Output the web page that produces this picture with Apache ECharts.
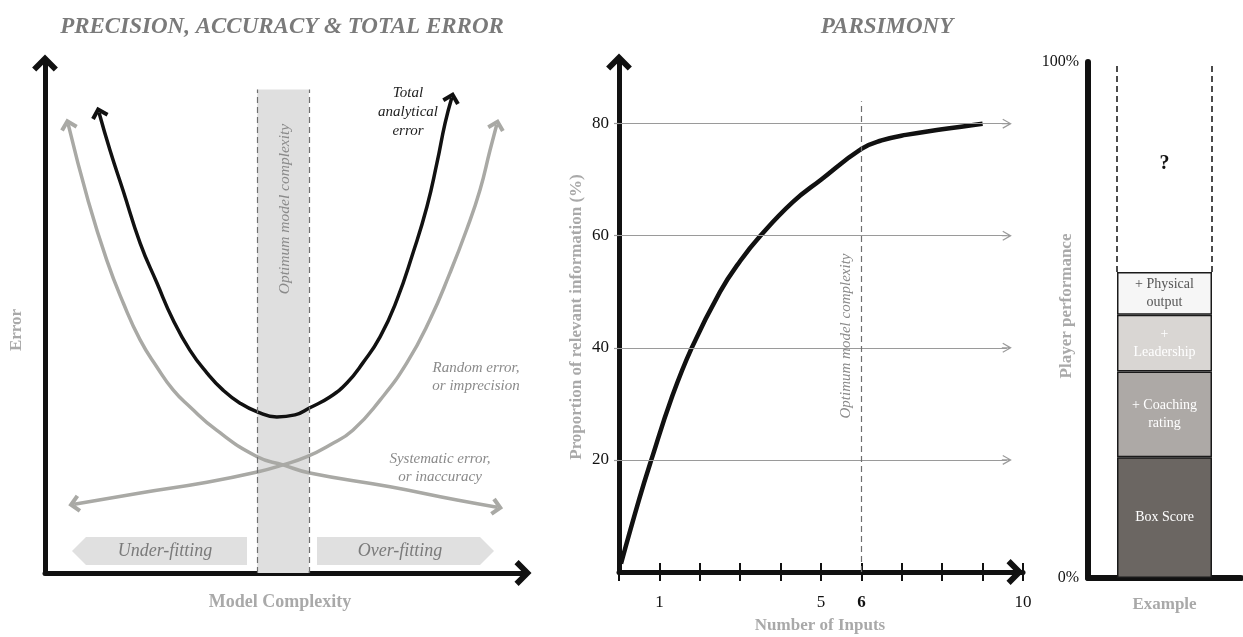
<!DOCTYPE html>
<html><head><meta charset="utf-8">
<script src="https://cdn.jsdelivr.net/npm/echarts@6/dist/echarts.min.js"></script>
<style>html,body{margin:0;padding:0;background:#fff}#c{width:1243px;height:637px}</style>
</head><body><div id="c"></div>
<script>
// ---------- Panel 1: precision, accuracy & total error (conceptual 0–100 units) ----------
const totalX = [11.3, 13.6, 16.3, 19.9, 23.4, 26.8, 30.3, 33.9, 37.2, 40.8, 44.4, 48.5, 52.3, 55.4, 59.6, 63.2, 66.5, 70.1, 73.6, 77.0, 79.9, 82.0, 83.7, 85.1];
const totalY = [90.3, 82.9, 75.1, 64.7, 56.9, 49.6, 43.7, 39.2, 35.9, 33.3, 31.6, 30.6, 31.0, 32.4, 34.5, 37.3, 41.2, 46.3, 53.5, 62.8, 71.8, 80.4, 88.2, 93.2];
const systematicX = [4.85, 9.0, 12.9, 16.4, 19.9, 23.4, 26.8, 30.3, 35.9, 44.4, 49.8, 55.4, 72.2, 86.2, 94.6];
const systematicY = [88.0, 73.1, 61.4, 52.9, 45.7, 40.4, 35.9, 32.6, 28.0, 22.8, 21.2, 19.6, 16.9, 14.3, 12.9];
const randomX = [6.1, 19.9, 33.9, 44.4, 49.8, 54.8, 59.6, 64.4, 70.1, 75.7, 80.5, 84.7, 88.2, 91.0, 93.1, 94.5];
const randomY = [13.5, 15.7, 17.8, 19.8, 21.2, 22.8, 25.1, 28.0, 33.9, 41.2, 49.6, 58.8, 67.3, 75.1, 82.9, 87.9];
const optimumBandX = [44.4, 55.2];
const optimumBandTop = 94.8;

// ---------- Panel 2: parsimony ----------
const inputs = [0.05, 0.5, 0.8, 1.3, 1.8, 2.5, 3.0, 3.5, 4.3, 5.0, 6.0, 6.5, 7.1, 8.0, 9.0];
const infoPct = [1.5, 13, 20, 31, 40, 50, 55.5, 60, 66, 70, 75.5, 77, 78, 79, 80];
const inputTickLabels = [1, 5, 6, 10];
const infoTicks = [20, 40, 60, 80];
const optimumInputs = 6;
const optimumLineTop = 84;

// ---------- Panel 3: player performance ----------
const segmentNames = ['Box Score', '+ Coaching\nrating', '+\nLeadership', '+ Physical\noutput'];
const segmentValues = [23.4, 16.6, 11.0, 8.3];
const unknownValue = 40.7;
const perfTicks = [0, 100];
const exampleCategory = ['Example'];

// ---------- styles ----------
const SERIF = '"Liberation Serif","DejaVu Serif",serif';
const BLACK = '#111';
const GREY_CURVE = '#a9a9a5';
const AXIS_NAME = '#a9a9a9';
const TITLE = '#7a7a7a';
const CHEVRON = 'path://M50,0 L100,50 L84,66 L50,32 L16,66 L0,50 Z';
const THIN_ARROW = 'path://M50,0 L100,88 L89.6,93.9 L56,34.7 L56,100 L44,100 L44,34.7 L10.4,93.9 L0,88 Z';
const segmentColors = ['#6b6662', '#ada9a6', '#d9d6d3', '#f6f6f6'];
const segmentText = ['#fff', '#fff', '#fff', '#555'];
const BAR_W = 95;
const gridArrowEnd = 9.6;
const SMOOTH = 0.5;

const chart = echarts.init(document.getElementById('c'), null, {renderer: 'canvas'});

function curveData(xs, ys, rots, size) {
  return xs.map((x, i) => {
    const item = {value: [x, ys[i]]};
    if (i === 0 || i === xs.length - 1) {
      item.symbol = CHEVRON;
      item.symbolSize = size;
      item.symbolRotate = rots[i === 0 ? 0 : 1];
    }
    return item;
  });
}

function txt(x, y, text, o) {
  return Object.assign({type: 'text', x: x, y: y, z: 20, silent: true,
    style: Object.assign({text: text, fontFamily: SERIF, align: 'center', verticalAlign: 'middle'}, o.style)},
    o.rotation != null ? {rotation: o.rotation} : {});
}

const hiddenAxisBits = {axisTick: {show: false}, axisLabel: {show: false}, splitLine: {show: false}};
const thickLine = {show: true, lineStyle: {color: BLACK, width: 5}, symbol: ['none', CHEVRON], symbolSize: [26, 17]};

function curveSeries(id, xs, ys, rots, color, z) {
  return {id: id, type: 'line', xAxisIndex: 0, yAxisIndex: 0, z: z, smooth: SMOOTH,
    symbol: 'circle', symbolSize: 0, showSymbol: true, showAllSymbol: true,
    lineStyle: {color: color, width: 3.5}, itemStyle: {color: color, borderWidth: 0},
    data: curveData(xs, ys, rots, [18, 12])};
}

function buildOption(rots) {
  const knownTotal = segmentValues.reduce((a, b) => a + b, 0);
  const sys = curveSeries('systematic', systematicX, systematicY, rots.systematic, GREY_CURVE, 3);
  sys.markArea = {silent: true, itemStyle: {color: '#dfdfdf'},
    data: [[{coord: [optimumBandX[0], 0]}, {coord: [optimumBandX[1], optimumBandTop]}]]};
  sys.markLine = {silent: true, symbol: ['none', 'none'], label: {show: false},
    lineStyle: {color: '#6f6f6f', width: 1.2, type: [6, 4]},
    data: optimumBandX.map(x => [{coord: [x, 0]}, {coord: [x, optimumBandTop]}])};
  return {
    animation: false,
    backgroundColor: '#fff',
    grid: [
      {left: 45, right: 720, top: 63, bottom: 64},
      {left: 619, right: 220, top: 62, bottom: 65},
      {left: 1088, right: 2, top: 62, bottom: 59}
    ],
    xAxis: [
      Object.assign({gridIndex: 0, type: 'value', min: 0, max: 100, axisLine: thickLine}, hiddenAxisBits),
      {gridIndex: 1, type: 'value', min: 0, max: 10, interval: 1, position: 'bottom',
        axisLine: {show: true, onZero: false, lineStyle: {color: BLACK, width: 5}, symbol: ['none', CHEVRON], symbolSize: [26, 17], symbolOffset: [0, -8]},
        axisTick: {show: true, length: 9, lineStyle: {color: BLACK, width: 2}},
        axisLabel: {show: true, margin: 22, color: BLACK, fontSize: 17, fontFamily: SERIF,
          formatter: v => v === optimumInputs ? '{b|' + v + '}' : (inputTickLabels.indexOf(v) >= 0 ? String(v) : ''),
          rich: {b: {fontWeight: 'bold', fontSize: 17, fontFamily: SERIF, color: BLACK}}},
        splitLine: {show: false}},
      {gridIndex: 1, type: 'value', min: 0, max: 10, interval: 1, position: 'bottom',
        axisLine: {show: false, onZero: false},
        axisTick: {show: true, inside: true, length: 9, lineStyle: {color: BLACK, width: 2}},
        axisLabel: {show: false}, splitLine: {show: false}},
      {gridIndex: 2, type: 'category', data: exampleCategory,
        axisLine: {show: true, lineStyle: {color: BLACK, width: 6}},
        axisTick: {show: false},
        axisLabel: {color: AXIS_NAME, fontWeight: 'bold', fontSize: 17, fontFamily: SERIF, margin: 18}}
    ],
    yAxis: [
      Object.assign({gridIndex: 0, type: 'value', min: 0, max: 100, axisLine: thickLine}, hiddenAxisBits),
      {gridIndex: 1, type: 'value', min: 0, max: 91,
        axisLine: {show: true, onZero: false, lineStyle: {color: BLACK, width: 5}, symbol: ['none', CHEVRON], symbolSize: [26, 17]},
        axisTick: {show: true, length: 5, customValues: infoTicks, lineStyle: {color: '#9a9a9a', width: 1.2}},
        axisLabel: {show: true, customValues: infoTicks, margin: 10, color: BLACK, fontSize: 17, fontFamily: SERIF},
        splitLine: {show: false}},
      {gridIndex: 2, type: 'value', min: 0, max: 100,
        axisLine: {show: true, lineStyle: {color: BLACK, width: 6}},
        axisTick: {show: false},
        axisLabel: {show: true, customValues: perfTicks, formatter: '{value}%', margin: 9, color: BLACK, fontSize: 16, fontFamily: SERIF},
        splitLine: {show: false}}
    ],
    series: [
      sys,
      curveSeries('random', randomX, randomY, rots.random, GREY_CURVE, 3),
      curveSeries('total', totalX, totalY, rots.total, BLACK, 4),
      {id: 'parsimony', type: 'line', xAxisIndex: 1, yAxisIndex: 1, z: 4, smooth: 0.45,
        symbol: 'none', lineStyle: {color: BLACK, width: 4.5},
        data: inputs.map((x, i) => [x, infoPct[i]]),
        markLine: {silent: true, label: {show: false}, symbol: ['none', 'none'],
          data: infoTicks.map(v => [
            {coord: [0, v], symbol: 'none', lineStyle: {color: '#9a9a9a', width: 1.2, type: 'solid'}},
            {coord: [gridArrowEnd, v], symbol: THIN_ARROW, symbolSize: 10}
          ]).concat([[
            {coord: [optimumInputs, 0], symbol: 'none', lineStyle: {color: '#6f6f6f', width: 1.2, type: [6, 4]}},
            {coord: [optimumInputs, optimumLineTop], symbol: 'none'}
          ]])}}
    ].concat(segmentNames.map((name, i) => ({
      type: 'bar', xAxisIndex: 3, yAxisIndex: 2, stack: 'perf', barWidth: BAR_W, z: 3,
      itemStyle: {color: segmentColors[i], borderColor: '#1a1a1a', borderWidth: 1.5},
      label: {show: true, position: 'inside', formatter: name, color: segmentText[i], fontSize: 14, lineHeight: 18, fontFamily: SERIF},
      data: [segmentValues[i]]
    }))).concat([{
      type: 'custom', xAxisIndex: 3, yAxisIndex: 2, z: 3,
      encode: {x: 0, y: 1},
      data: [[0, knownTotal, unknownValue]],
      renderItem: function (params, api) {
        const c = api.value(0), base = api.value(1), h = api.value(2);
        const p0 = api.coord([c, base]), p1 = api.coord([c, base + h]);
        const half = BAR_W / 2;
        const dash = {stroke: BLACK, lineWidth: 1.5, lineDash: [6, 4], fill: null};
        return {type: 'group', children: [
          {type: 'line', shape: {x1: p0[0] - half, y1: p0[1], x2: p0[0] - half, y2: p1[1] + 3}, style: dash},
          {type: 'line', shape: {x1: p0[0] + half, y1: p0[1], x2: p0[0] + half, y2: p1[1] + 3}, style: dash},
          {type: 'text', x: p0[0], y: (p0[1] + p1[1]) / 2 - 3,
            style: {text: '?', fontSize: 20, fontWeight: 'bold', fontFamily: SERIF, fill: BLACK, align: 'center', verticalAlign: 'middle'}}
        ]};
      }
    }]),
    graphic: [
      txt(282, 27, 'PRECISION, ACCURACY & TOTAL ERROR', {style: {fontSize: 23, fontWeight: 'bold', fontStyle: 'italic', fill: TITLE}}),
      txt(887, 27, 'PARSIMONY', {style: {fontSize: 23, fontWeight: 'bold', fontStyle: 'italic', fill: TITLE}}),
      txt(17, 330, 'Error', {rotation: Math.PI / 2, style: {fontSize: 17, fontWeight: 'bold', fill: AXIS_NAME}}),
      txt(280, 602, 'Model Complexity', {style: {fontSize: 18, fontWeight: 'bold', fill: AXIS_NAME}}),
      txt(285, 209, 'Optimum model complexity', {rotation: Math.PI / 2, style: {fontSize: 15.5, fontStyle: 'italic', fill: '#8a8a8a'}}),
      txt(408, 112, 'Total\nanalytical\nerror', {style: {fontSize: 15, fontStyle: 'italic', fill: '#222', lineHeight: 19}}),
      txt(476, 377, 'Random error,\nor imprecision', {style: {fontSize: 15, fontStyle: 'italic', fill: '#8a8a8a', lineHeight: 18}}),
      txt(440, 468, 'Systematic error,\nor inaccuracy', {style: {fontSize: 15, fontStyle: 'italic', fill: '#8a8a8a', lineHeight: 18}}),
      {type: 'polygon', z: 1, silent: true, shape: {points: [[72, 551], [86, 537], [247, 537], [247, 565], [86, 565]]}, style: {fill: '#e0e0e0'}},
      {type: 'polygon', z: 1, silent: true, shape: {points: [[317, 537], [480, 537], [494, 551], [480, 565], [317, 565]]}, style: {fill: '#e0e0e0'}},
      txt(165, 551, 'Under-fitting', {style: {fontSize: 18, fontStyle: 'italic', fill: '#7a7a7a'}}),
      txt(400, 551, 'Over-fitting', {style: {fontSize: 18, fontStyle: 'italic', fill: '#7a7a7a'}}),
      txt(577, 317, 'Proportion of relevant information (%)', {rotation: Math.PI / 2, style: {fontSize: 17, fontWeight: 'bold', fill: AXIS_NAME}}),
      txt(820, 626, 'Number of Inputs', {style: {fontSize: 17, fontWeight: 'bold', fill: AXIS_NAME}}),
      txt(846, 336, 'Optimum model complexity', {rotation: Math.PI / 2, style: {fontSize: 15, fontStyle: 'italic', fill: '#8a8a8a'}}),
      txt(1067, 306, 'Player performance', {rotation: Math.PI / 2, style: {fontSize: 17, fontWeight: 'bold', fill: AXIS_NAME}})
    ]
  };
}

const zeroRots = {systematic: [0, 0], random: [0, 0], total: [0, 0]};
chart.setOption(buildOption(zeroRots));

function rotDeg(a, b) {
  const dx = b[0] - a[0], dy = b[1] - a[1];
  return Math.atan2(-dy, dx) * 180 / Math.PI - 90;
}
function endRots(xs, ys) {
  const P = i => chart.convertToPixel({gridIndex: 0}, [xs[i], ys[i]]);
  const n = xs.length;
  return [rotDeg(P(1), P(0)), rotDeg(P(n - 2), P(n - 1))];
}
const rots = {
  systematic: endRots(systematicX, systematicY),
  random: endRots(randomX, randomY),
  total: endRots(totalX, totalY)
};
chart.setOption(buildOption(rots));
</script></body></html>
